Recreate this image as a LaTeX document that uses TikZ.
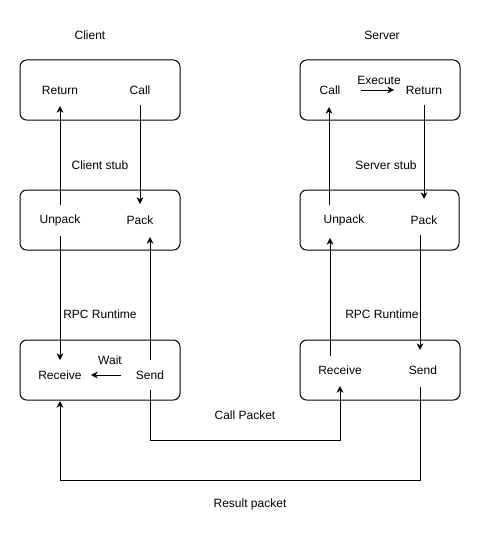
\documentclass[tikz,border=0pt]{standalone}
\usepackage{fontspec}
\setmainfont{Liberation Sans}
\usetikzlibrary{arrows.meta,calc}
\begin{document}
\begin{tikzpicture}[x=0.75pt,y=-0.75pt,
  font=\fontsize{9pt}{11pt}\selectfont,
  lbl/.style={inner sep=0pt},
  box/.style={draw,line width=0.75pt,rounded corners=5pt,minimum width=120pt,minimum height=45pt,inner sep=0pt},
  arr/.style={draw,line width=0.75pt,-{Stealth[length=5pt,width=5pt,inset=1.5pt]}}]
\fill[white] (0,0) rectangle (482,542);
\useasboundingbox (0,0) rectangle (482,542);
% boxes
\node[box] (cbox1) at (100,90) {};
\node[box] (cbox2) at (100,220) {};
\node[box] (cbox3) at (100,370) {};
\node[box] (sbox1) at (380,90) {};
\node[box,minimum width=119.25pt] (sbox2) at (379.5,220) {};
\node[box] (sbox3) at (380,370) {};
% titles
\node[lbl] (tclient) at (90,35) {Client};
\node[lbl] (tserver) at (382,35) {Server};
\node[lbl] (tcstub) at (100,165) {Client stub};
\node[lbl] (tsstub) at (386,165) {Server stub};
\node[lbl] (tcrt) at (100,314) {RPC Runtime};
\node[lbl] (tsrt) at (382,314) {RPC Runtime};
\node[lbl] (tcallp) at (245,415) {Call Packet};
\node[lbl] (tresp) at (250,504) {Result packet};
% client labels
\node[lbl] (cret) at (60,90) {Return};
\node[lbl] (ccall) at (140,90) {Call};
\node[lbl] (cunp) at (60,220) {Unpack};
\node[lbl] (cpack) at (140,220) {Pack};
\node[lbl] (crec) at (60,375) {Receive};
\node[lbl] (csend) at (150,375) {Send};
\node[lbl] (cwait) at (110,360) {Wait};
% server labels
\node[lbl] (scall) at (330,90) {Call};
\node[lbl] (sret) at (424,90) {Return};
\node[lbl] (sexec) at (379,80) {Execute};
\node[lbl] (sunp) at (344,220) {Unpack};
\node[lbl] (spack) at (424,220) {Pack};
\node[lbl] (srec) at (340,370) {Receive};
\node[lbl] (ssend) at (423,370) {Send};
% client arrows
\draw[arr] ($(cunp.center)+(0,-15)$) -- ($(cret.center)+(0,16)$);
\draw[arr] ($(ccall.center)+(0,15)$) -- ($(cpack.center)+(0,-16)$);
\draw[arr] ($(csend.center)+(0,-15)$) -- ($(cpack.center)+(10,17)$);
\draw[arr] ($(cunp.center)+(0,16)$) -- ($(crec.center)+(0,-15)$);
\draw[arr] ($(csend.center)+(-29,0)$) -- ($(crec.center)+(31,0)$);
% server arrows
\draw[arr] ($(scall.center)+(31,0)$) -- ($(sret.center)+(-30,0)$);
\draw[arr] ($(sunp.center)+(-15,-15)$) -- ($(scall.center)+(-1,17)$);
\draw[arr] ($(sret.center)+(0,15)$) -- ($(spack.center)+(0,-21)$);
\draw[arr] ($(srec.center)+(-10,-14)$) -- ($(sunp.center)+(-14,18)$);
\draw[arr] ($(spack.center)+(-4,15)$) -- ($(ssend.center)+(-3,-20)$);
% packets
\draw[arr] ($(csend.center)+(0,15)$) -- ($(csend.center)+(0,65)$) -| ($(srec.center)+(0,16)$);
\draw[arr] ($(ssend.center)+(-3,17)$) -- ($(ssend.center)+(-3,110)$) -| ($(crec.center)+(0,26)$);
\end{tikzpicture}
\end{document}
